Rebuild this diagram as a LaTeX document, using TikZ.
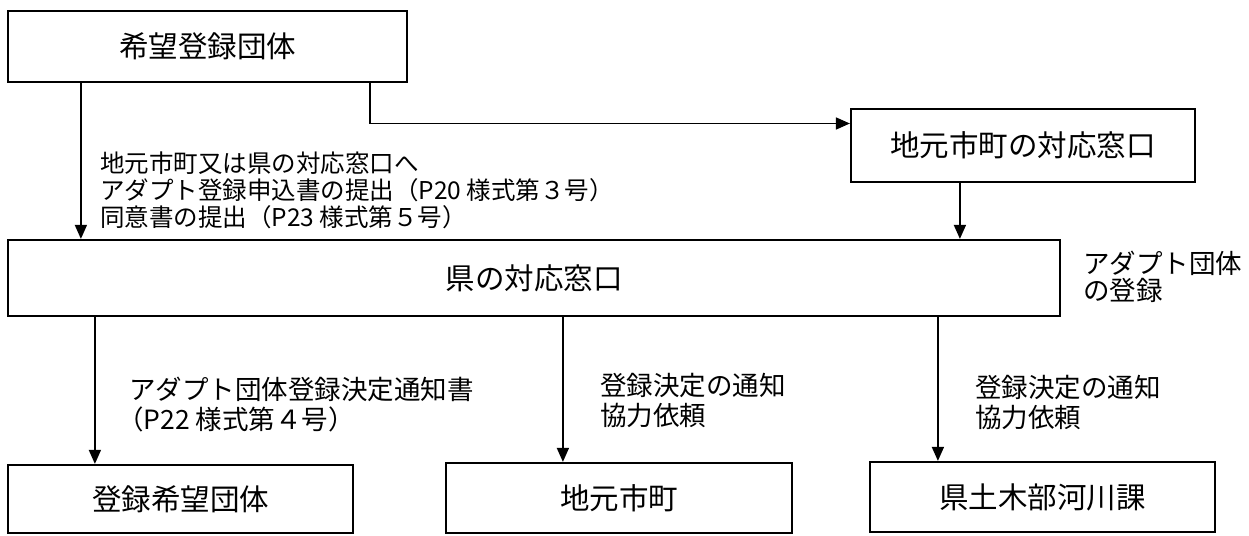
\documentclass[tikz,border=0pt]{standalone}
\usepackage{fontspec}
\setmainfont{Noto Sans CJK JP}
\usetikzlibrary{arrows.meta}
\begin{document}
\begin{tikzpicture}[x=1pt,y=-1pt,
  box/.style={draw,line width=2.2pt,rectangle,inner sep=0pt,font=\fontsize{29.5}{32}\selectfont},
  arr/.style={line width=1.6pt,-{Triangle[length=14pt,width=12pt]}},
  lab/.style={anchor=west,align=left,inner sep=0pt,font=\fontsize{26.5}{30}\selectfont},
  note/.style={anchor=west,align=left,inner sep=0pt,font=\fontsize{24.5}{27}\selectfont}]
\useasboundingbox[fill=white] (0,0) rectangle (1249,535);
% boxes
\node[box,minimum width=399pt,minimum height=71pt] (kibo) at (207.5,46.5) {希望登録団体};
\node[box,minimum width=344pt,minimum height=73pt] (chimado) at (1023,145.5) {地元市町の対応窓口};
\node[box,minimum width=1052pt,minimum height=76pt] (ken) at (534,278) {県の対応窓口};
\node[box,minimum width=345pt,minimum height=68pt] (b1) at (180.5,499) {登録希望団体};
\node[box,minimum width=346pt,minimum height=70pt] (b2) at (619,498) {地元市町};
\node[box,minimum width=345pt,minimum height=70pt] (b3) at (1042.5,497) {県土木部河川課};
% labels
\node[note] (n1) at (100,190) {地元市町又は県の対応窓口へ\\アダプト登録申込書の提出（P20 様式第３号）\\同意書の提出（P23 様式第５号）};
\node[lab,font=\fontsize{26.5}{27}\selectfont] (n2) at (1083,276.5) {アダプト団体\\の登録};
\node[lab] (n3) at (129,405) {アダプト団体登録決定通知書\\\hspace*{-0.45em}（P22 様式第４号）};
\node[lab] (n4) at (600,400) {登録決定の通知\\協力依頼};
\node[lab] (n5) at (975,402) {登録決定の通知\\協力依頼};
% connectors
\draw[arr] ([xshift=74pt]kibo.south west) coordinate (c1) -- (c1 |- ken.north);
\draw[arr] ([xshift=363pt]kibo.south west) |- ([yshift=22pt]chimado.west);
\draw[arr] ([xshift=110pt]chimado.south west) coordinate (c3) -- (c3 |- ken.north);
\draw[arr] ([xshift=88pt]ken.south west) coordinate (c4) -- (c4 |- b1.north);
\draw[arr] ([xshift=556pt]ken.south west) coordinate (c5) -- (c5 |- b2.north);
\draw[arr] ([xshift=931pt]ken.south west) coordinate (c6) -- (c6 |- b3.north);
\end{tikzpicture}
\end{document}
